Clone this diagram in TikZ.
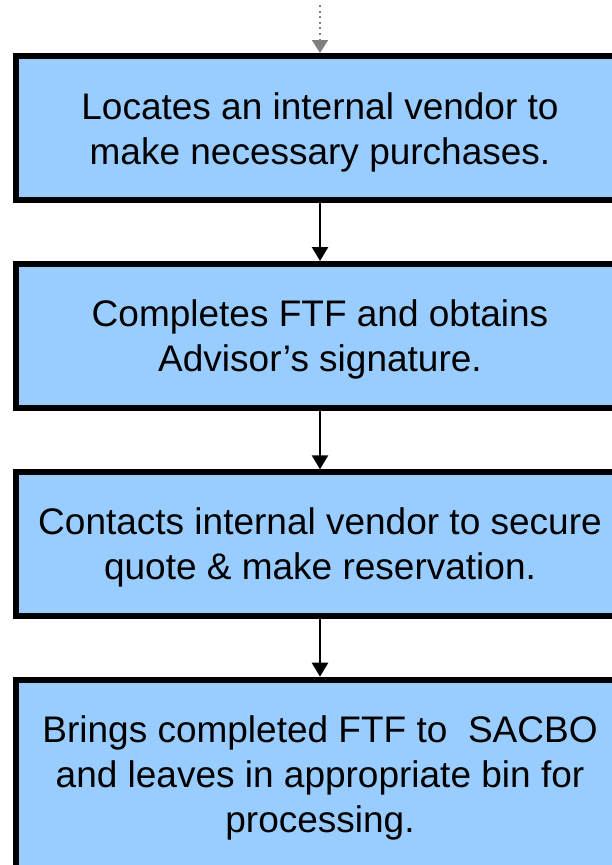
\documentclass[tikz,border=0pt]{standalone}
\usepackage{fontspec}
\setmainfont{Liberation Sans}
\usetikzlibrary{arrows.meta}
\definecolor{boxblue}{RGB}{153,204,255}
\definecolor{dotgray}{RGB}{128,128,128}
\tikzset{
  stepbox/.style={draw=black, fill=boxblue, line width=6pt, minimum width=608pt,
    inner sep=0pt},
  steptext/.style={inner sep=0pt, align=center, font=\fontsize{37}{45}\selectfont},
  flowarrow/.style={draw=black, line width=2.5pt, -{Triangle[width=16pt,length=14pt]}},
  dotarrow/.style={draw=dotgray, line width=2pt, dash pattern=on 2pt off 3.6pt,
    -{Triangle[width=16pt,length=13pt,fill=dotgray]}}
}
\begin{document}
\begin{tikzpicture}[x=1pt,y=-1pt]
\useasboundingbox (0,0) rectangle (612,865);
\clip (0,0) rectangle (612,865);
\fill[white] (0,0) rectangle (612,865);
\node[stepbox, minimum height=143.7pt] (b1) at (320,127.85) {};
\node[stepbox, minimum height=143.7pt] (b2) at (320,335.85) {};
\node[stepbox, minimum height=143.4pt] (b3) at (320,544) {};
\node[stepbox, minimum height=195pt] (b4) at (320,777.2) {};
\node[steptext] (t1) at ([yshift=-4.5pt]b1.center)
  {Locates an internal vendor to\\make necessary purchases.};
\node[steptext] (t2) at ([yshift=-4pt]b2.center)
  {Completes FTF and obtains\\Advisor’s signature.};
\node[steptext] (t3) at ([yshift=-3pt]b3.center)
  {Contacts internal vendor to secure\\quote \& make reservation.};
\node[steptext] (t4) at ([yshift=-1pt]b4.center)
  {Brings completed FTF to\ \ SACBO\\and leaves in appropriate bin for\\processing.};
\coordinate (start) at (320,5);
\draw[dotarrow] (start) -- (b1.north);
\draw[flowarrow] (b1.south) -- (b2.north);
\draw[flowarrow] (b2.south) -- (b3.north);
\draw[flowarrow] (b3.south) -- (b4.north);
\end{tikzpicture}
\end{document}
